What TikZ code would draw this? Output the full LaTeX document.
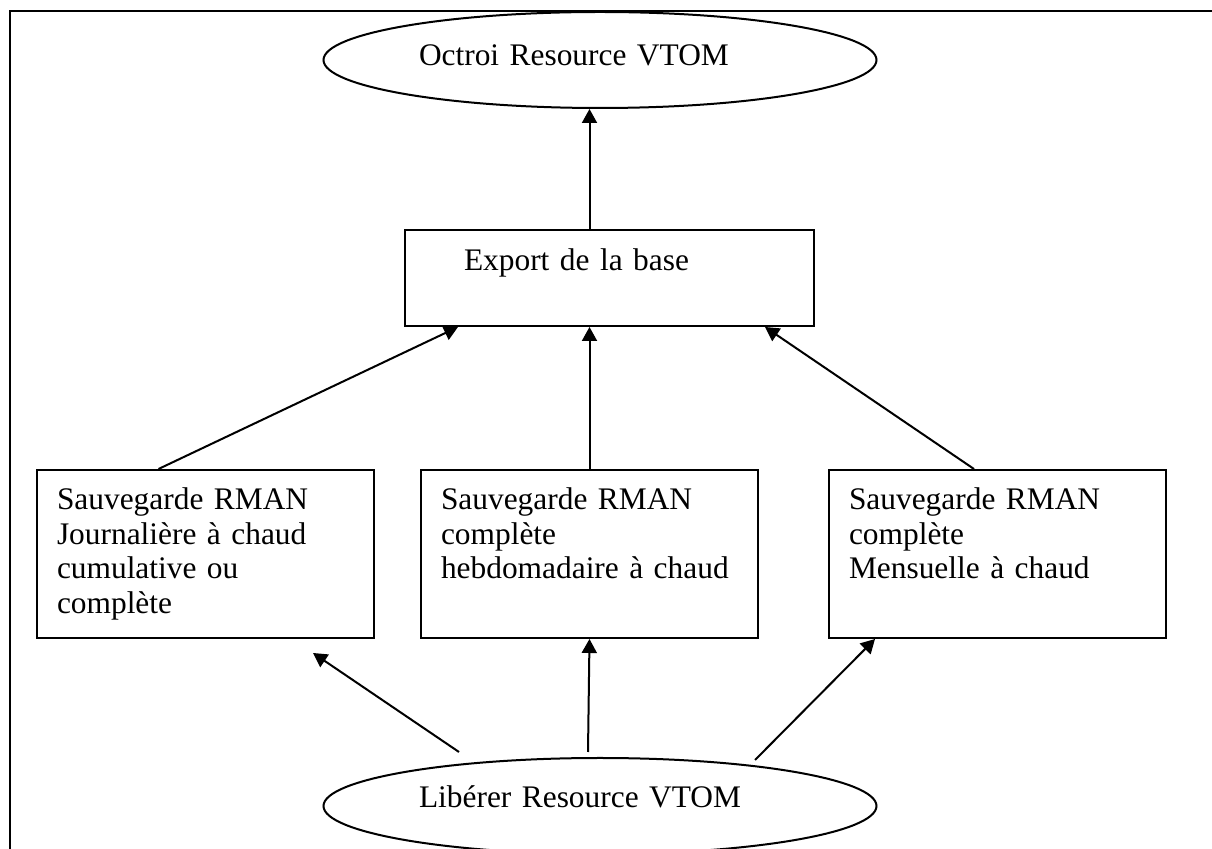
\documentclass[tikz,border=0pt]{standalone}
\usepackage{fontspec}
\setmainfont{Liberation Serif}
\usetikzlibrary{shapes.geometric,arrows.meta}
\begin{document}
\begin{tikzpicture}[x=0.5pt,y=-0.5pt,line width=1pt,
    >={Triangle[length=7pt,width=7.5pt]},
    every node/.style={font=\fontsize{15.7}{17.2}\selectfont},
    etat/.style={draw,ellipse,minimum width=276.5pt,minimum height=48pt,
      text width=181pt,align=left},
    boite/.style={draw,anchor=north west,align=left,inner xsep=10pt,
      inner ysep=0pt,text width=148.5pt,text height=20pt,text depth=64pt}]
      \useasboundingbox (0,0) rectangle (1212,849);
      % cadre
      \draw (1212,11) -- (10,11) -- (10,849);
      \node [etat,text height=10pt,text depth=4pt] (octroi) at (600,60) {Octroi Resource VTOM};
      \node [draw,anchor=north west,align=left,inner xsep=29.5pt,inner ysep=0pt,
        text width=145.5pt,text height=20.5pt,text depth=27.5pt] (export) at (404,229) {Export de la base};
      \node [boite] (jour) at (36,469) {Sauvegarde RMAN\\Journalière à chaud\\cumulative ou\\complète};
      \node [boite] (hebdo) at (420,469) {Sauvegarde RMAN\\complète\\hebdomadaire à chaud};
      \node [boite] (mens) at (828,469) {Sauvegarde RMAN\\complète\\Mensuelle à chaud};
      \node [etat,text height=9pt,text depth=7pt] (liberer) at (600,806) {Libérer Resource VTOM};
      \coordinate (dl) at (459,752);
      \coordinate (dm) at (588,752);
      \coordinate (dr) at (755,760);
      \coordinate (fl) at (313,653);
      \draw [->] (export.north -| hebdo.north) -- (octroi.south -| hebdo.north);
      \draw [->] ([xshift=-23.5pt]jour.north) -- ([xshift=27pt]export.south west);
      \draw [->] (hebdo.north) -- (export.south -| hebdo.north);
      \draw [->] ([xshift=-11.75pt]mens.north) -- ([xshift=-25pt]export.south east);
      \draw [->] (dl) -- (fl);
      \draw [->] (dm) -- (hebdo.south);
      \draw [->] (dr) -- ([xshift=23.5pt]mens.south west);
    \end{tikzpicture}
\end{document}
